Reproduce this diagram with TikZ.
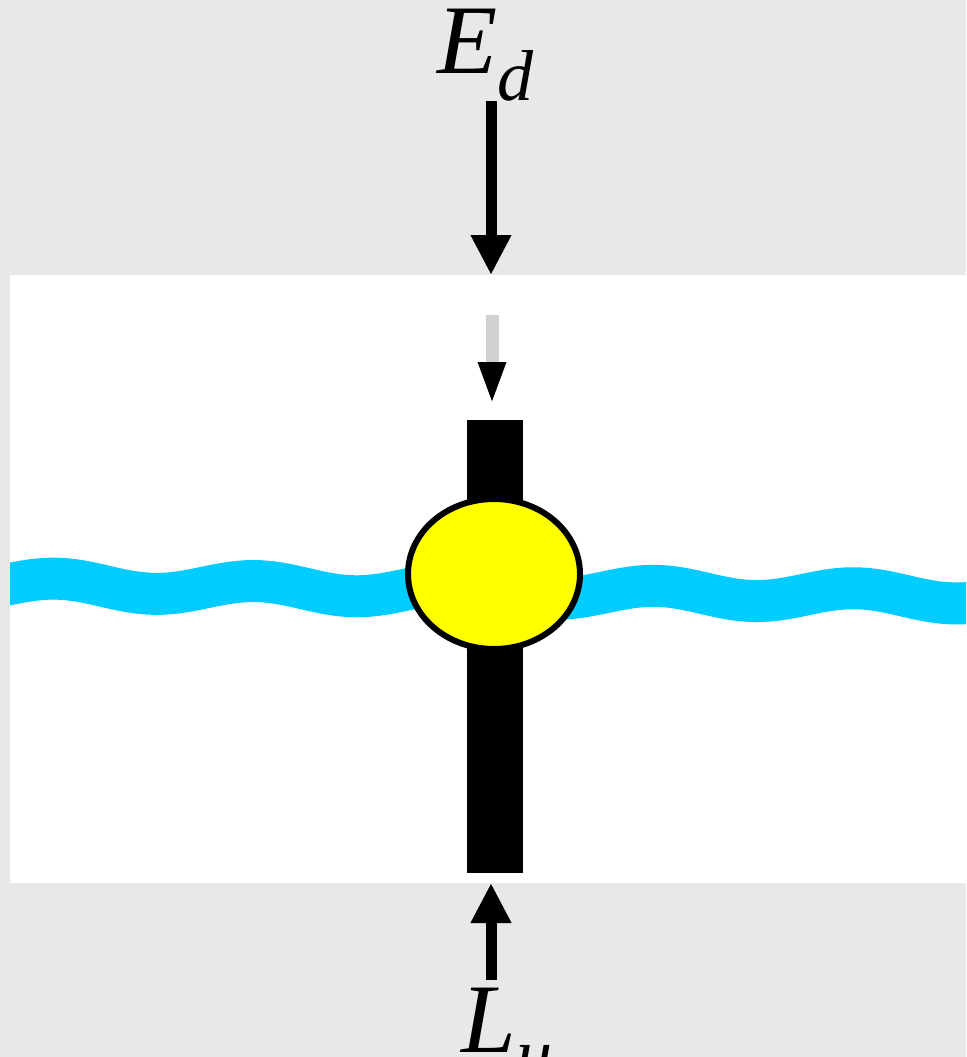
\documentclass[tikz,border=0pt]{standalone}
\usepackage{fontspec}
\setmainfont{Liberation Serif}
\usetikzlibrary{arrows.meta,positioning}
\definecolor{paper}{RGB}{232,232,232}
\definecolor{water}{RGB}{0,204,255}
\definecolor{ball}{RGB}{255,255,0}
% italic symbol with a lowered subscript
\newcommand{\fluxlbl}[2]{\fontsize{56}{60}\selectfont\itshape #1\raisebox{-15pt}{\fontsize{41}{44}\selectfont #2}}

\begin{document}
\begin{tikzpicture}[x=0.02cm, y=-0.02cm,
  bigarrow/.style={line width=0.22cm, -{Triangle[width=0.76cm, length=0.8cm]}},
  faint/.style={line width=0.26cm, draw=black!18, -{Triangle[color=black, width=0.5cm, length=0.86cm]}},
  wave/.style={line width=0.84cm, draw=water},
  lbl/.style={inner sep=0pt, anchor=base west}
]
\useasboundingbox (0,0) rectangle (966,1057);
% background and layer
\fill[paper] (0,0) rectangle (966,1057);
\fill[white] (10,275) rectangle (966,883);

% water line
\begin{scope}
  \clip (10,275) rectangle (966,883);
  \draw[wave] plot[domain=0:980, samples=200] (\x, {585+0.012*\x-7*cos(1.8*(\x-55))});
\end{scope}

% column and particle
\fill[black] (467,420) rectangle (523,873);
\draw[line width=0.12cm, fill=ball] (494,574) ellipse [x radius=86, y radius=75];

% labels
\node[lbl] (Ed) at (437,74) {\fluxlbl{E}{d}};
\node[lbl] (Lu) at (461,1052) {\fluxlbl{L}{u}};

% fluxes
\coordinate (topin) at (491,275);
\coordinate (botin) at (491,883);
\coordinate (fs) at (492,315);
\coordinate (fe) at (492,405);
\draw[bigarrow] (Ed.south -| topin) -- (topin);
\draw[bigarrow] ([yshift=0.14cm]Lu.north -| botin) -- (botin);
\draw[faint] (fs) -- (fe);
\end{tikzpicture}
\end{document}
